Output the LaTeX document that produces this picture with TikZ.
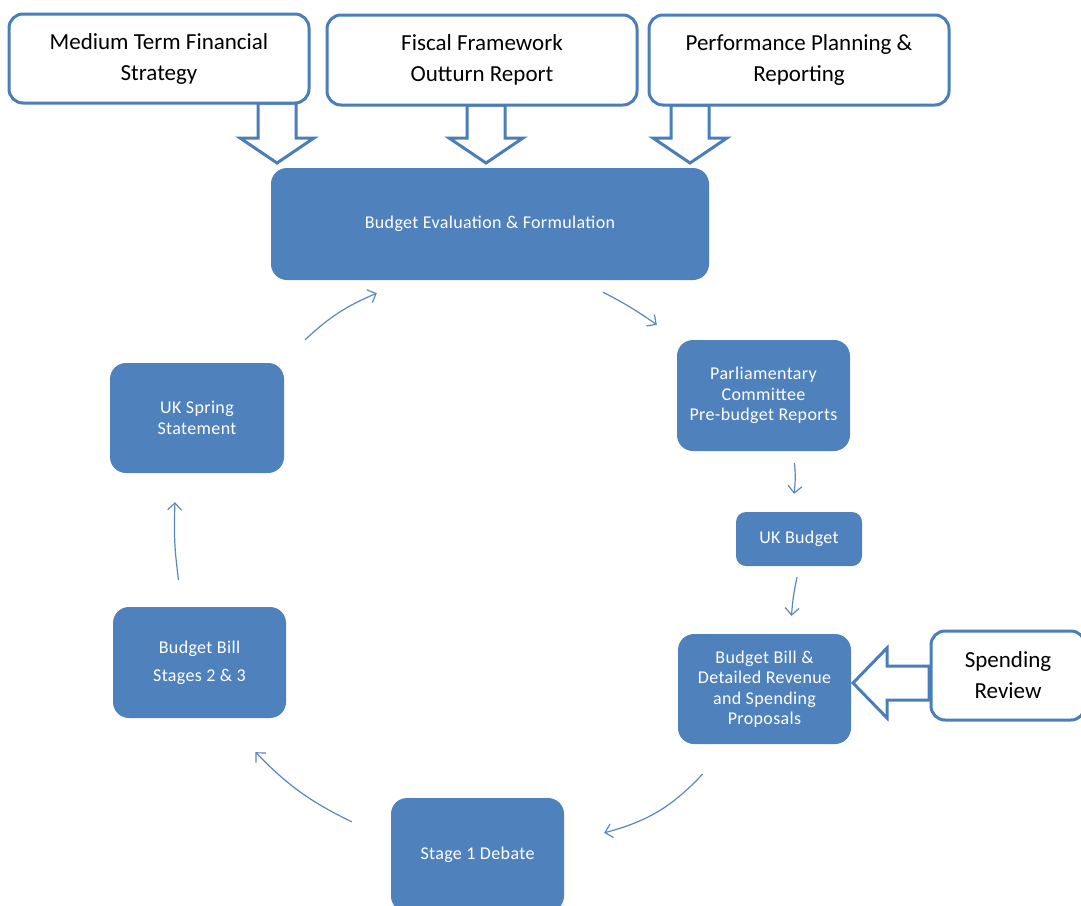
\documentclass[tikz,border=0pt]{standalone}
\usepackage{fontspec}
\setmainfont{Carlito}
\newfontfamily\wfont[LetterSpace=2]{Carlito}
\usetikzlibrary{arrows.meta,calc}
\definecolor{boxblue}{RGB}{79,129,189}
\definecolor{lineblue}{RGB}{74,126,187}
\definecolor{arrowblue}{RGB}{90,135,190}
\begin{document}
\begin{tikzpicture}[x=1pt,y=-1pt,
  topbox/.style={draw=lineblue,line width=3pt,fill=white,rounded corners=14pt,
    inner sep=0pt,align=center,text=black,font=\fontsize{23}{31}\selectfont},
  bluebox/.style={fill=boxblue,rounded corners=16pt,inner sep=0pt,align=center,
    text=white,font=\wfont\fontsize{18}{20.5}\selectfont},
  barrow/.style={draw=lineblue,line width=3pt,fill=white,line join=miter},
  flow/.style={draw=arrowblue,line width=1.2pt,-{Straight Barb[length=7pt,width=14pt,line width=1.2pt]}}
]
\useasboundingbox (0,0) rectangle (1081,905);
\clip (0,0) rectangle (1081,905);

% block arrows (drawn first, under the boxes)
\foreach \cx/\ty in {277/103,486/105,690/105}
  \draw[barrow] (\cx-19,\ty) -- (\cx-19,138) -- (\cx-37,138) -- (\cx,163)
     -- (\cx+37,138) -- (\cx+19,138) -- (\cx+19,\ty) -- cycle;
\draw[barrow] (929,666) -- (887,666) -- (887,648) -- (853,683) -- (887,718)
   -- (887,700) -- (929,700) -- cycle;

% top input boxes
\node[topbox,minimum width=300pt,minimum height=89pt] (mtfs) at (159,58.5)
  {Medium Term Financial\\Strategy};
\node[topbox,minimum width=310pt,minimum height=90pt] (ffor) at (482,60)
  {Fiscal Framework\\Outturn Report};
\node[topbox,minimum width=300pt,minimum height=90pt] (ppr) at (799,60)
  {Performance Planning \&\\Reporting};
\node[topbox,minimum width=154pt,minimum height=89pt] (spend) at (1008,675.5)
  {Spending\\Review};

% cycle boxes
\node[bluebox,minimum width=438pt,minimum height=112pt] (eval) at (490,224)
  {Budget Evaluation \& Formulation};
\node[bluebox,minimum width=173pt,minimum height=111pt] (parl) at (763.5,395.5)
  {Parliamentary\\Committee\\Pre-budget Reports};
\node[bluebox,minimum width=126pt,minimum height=54pt,rounded corners=10pt] (ukb) at (799,539)
  {UK Budget};
\node[bluebox,minimum width=173pt,minimum height=110pt] (bbd) at (764.5,689)
  {Budget Bill \&\\Detailed Revenue\\and Spending\\Proposals};
\node[bluebox,minimum width=173pt,minimum height=114pt] (stage) at (477.5,855)
  {\raisebox{1pt}{Stage 1 Debate}};
\node[bluebox,minimum width=173pt,minimum height=111pt,
  font=\wfont\fontsize{18}{28}\selectfont] (bbs) at (199.5,662.5)
  {Budget Bill\\Stages 2 \& 3};
\node[bluebox,minimum width=174pt,minimum height=110pt] (spring) at (197,418)
  {UK Spring\\Statement};

% cycle connectors
\draw[flow] ($(eval.south)+(113,12)$) to[bend left=4] ($(parl.north west)+(-20,-15)$);
\draw[flow] ($(parl.south)+(31,12)$) to[bend left=6] ($(ukb.north)+(-5,-18)$);
\draw[flow] ($(ukb.south)+(-2,11)$) to[bend left=-4] ($(bbd.north)+(27,-18)$);
\draw[flow] ($(bbd.south)+(-62,30)$) to[bend left=16] ($(stage.north east)+(40,35)$);
\draw[flow] ($(stage.north west)+(-39,24)$) to[bend left=10] ($(bbs.south)+(56,34)$);
\draw[flow] ($(bbs.north)+(-21,-27)$) to[bend left=5] ($(spring.south)+(-22,29)$);
\draw[flow] ($(spring.north)+(108,-23)$) to[bend left=10] ($(eval.south west)+(106,13)$);
\end{tikzpicture}
\end{document}
